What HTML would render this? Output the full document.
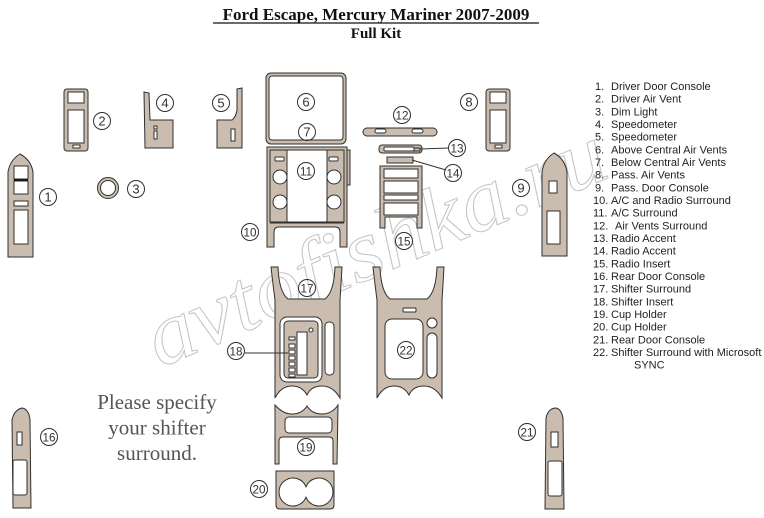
<!DOCTYPE html>
<html><head><meta charset="utf-8"><style>
html,body{margin:0;padding:0;background:#fff;}
svg{display:block;}
.p{fill:#cabdaf;stroke:#2f2f2f;stroke-width:1;}
.w{fill:#fff;stroke:#2f2f2f;stroke-width:1;}
.c{fill:none;stroke:#2f2f2f;stroke-width:1;}
.n{font-family:"Liberation Sans",sans-serif;font-size:13px;fill:#333;text-anchor:middle;}
.n2{font-family:"Liberation Sans",sans-serif;font-size:12px;fill:#333;text-anchor:middle;}
.lg{font-family:"Liberation Sans",sans-serif;font-size:11px;fill:#222;}
</style></head><body>
<svg width="764" height="518" viewBox="0 0 764 518" xmlns="http://www.w3.org/2000/svg">
<rect width="764" height="518" fill="#fff"/>

<!-- watermark -->
<text x="160" y="368" transform="rotate(-23 160 368)" textLength="492" lengthAdjust="spacingAndGlyphs" font-family="Liberation Serif, serif" font-style="italic" font-size="88" fill="none" stroke="#c4c4c4" stroke-width="1">avtofishka.ru</text>

<!-- title -->
<text x="376" y="20" text-anchor="middle" font-family="Liberation Serif, serif" font-weight="bold" font-size="17" fill="#111">Ford Escape, Mercury Mariner 2007-2009</text>
<line x1="213" y1="23" x2="539" y2="23" stroke="#111" stroke-width="1.2"/>
<text x="376" y="38" text-anchor="middle" font-family="Liberation Serif, serif" font-weight="bold" font-size="15" fill="#111">Full Kit</text>

<!-- Part 1 -->
<path class="p" d="M8,257 L8,172 Q10,160 20,154 Q31,160 33,172 L33,257 Z"/>
<rect class="w" x="14" y="166" width="14" height="13"/>
<rect class="w" x="14" y="181" width="14" height="13"/>
<line x1="14" y1="180" x2="28" y2="180" stroke="#111" stroke-width="1.5"/>
<rect class="w" x="14" y="201" width="14" height="5"/>
<rect class="w" x="14" y="210" width="14" height="34"/>

<!-- Part 2 -->
<rect class="p" x="64" y="89" width="24" height="62" rx="3"/>
<rect class="w" x="68" y="92" width="16" height="11"/>
<rect class="w" x="68" y="110" width="16" height="33"/>
<rect class="w" x="73" y="145" width="7" height="3"/>

<!-- Part 8 -->
<rect class="p" x="486" y="89" width="24" height="62" rx="3"/>
<rect class="w" x="490" y="92" width="16" height="11"/>
<rect class="w" x="490" y="110" width="16" height="33"/>
<rect class="w" x="495" y="145" width="7" height="3"/>

<!-- Part 3 -->
<circle cx="108" cy="188" r="9" fill="none" stroke="#cabdaf" stroke-width="3"/>
<circle cx="108" cy="188" r="10.5" class="c"/>
<circle cx="108" cy="188" r="7.5" class="c"/>

<!-- Part 4 -->
<path class="p" d="M144,92 L149,93 L150,120 L173,120 L173,148 L145,148 Z"/>
<rect class="w" x="154" y="126" width="3" height="3"/>
<rect class="w" x="154" y="131" width="3" height="8"/>

<!-- Part 5 -->
<path class="p" d="M237,89 L242,88 L242,148 L217,148 L217,120 L232,120 Q236,117 237,110 Z"/>
<rect class="w" x="231" y="129" width="4" height="12"/>

<!-- Part 6/7 -->
<rect class="p" x="266" y="73" width="80" height="71" rx="5"/>
<rect class="w" x="269" y="76" width="74" height="64" rx="3"/>

<!-- Part 10/11 -->
<path class="p" d="M267,147 L347,147 L347,247 L340,247 L340,232 Q340,227 335,227 L279,227 Q274,227 274,232 L274,247 L267,247 Z"/>
<rect class="p" x="270" y="150" width="17" height="72"/>
<rect class="p" x="327" y="150" width="17" height="72"/>
<rect class="w" x="287" y="150" width="40" height="72"/>
<line x1="270" y1="223" x2="344" y2="223" stroke="#2f2f2f" stroke-width="1"/>
<circle class="w" cx="280" cy="177" r="7"/>
<circle class="w" cx="280" cy="202" r="7"/>
<circle class="w" cx="334" cy="177" r="7"/>
<circle class="w" cx="334" cy="202" r="7"/>
<rect class="w" x="275" y="157" width="9" height="4" rx="1"/>
<rect class="w" x="329" y="157" width="9" height="4" rx="1"/>
<rect class="p" x="347" y="150" width="3" height="35"/>

<!-- Part 12 -->
<rect class="p" x="363" y="128" width="74" height="8" rx="4"/>
<rect class="w" x="375" y="129" width="11" height="4" rx="2"/>
<rect class="w" x="412" y="129" width="11" height="4" rx="2"/>

<!-- Part 13 -->
<rect class="p" x="379" y="145" width="43" height="8" rx="3"/>
<rect class="w" x="384" y="147" width="30" height="4" rx="1"/>
<rect class="p" x="414" y="148" width="6" height="3"/>
<line x1="420" y1="149" x2="449" y2="148" stroke="#333" stroke-width="1"/>

<!-- Part 14 -->
<rect class="p" x="387" y="157" width="26" height="6"/>
<line x1="412" y1="160" x2="446" y2="170" stroke="#333" stroke-width="1"/>

<!-- Part 15 -->
<path class="p" d="M380,166 L422,166 L422,228 L417,228 L417,217 L385,217 L385,228 L380,228 Z"/>
<rect class="w" x="384" y="169" width="34" height="9"/>
<rect class="w" x="384" y="181" width="34" height="12"/>
<rect class="w" x="384" y="195" width="34" height="5"/>
<rect class="w" x="384" y="203" width="34" height="12"/>

<!-- Part 9 -->
<path class="p" d="M542,256 L542,172 Q544,159 554,153 Q565,159 567,172 L567,256 Z"/>
<rect class="w" x="549" y="181" width="8" height="12"/>
<rect class="w" x="547" y="211" width="13" height="33"/>

<!-- Part 17/18 -->
<path class="p" d="M271,267 L278,267 Q279,292 288,299 L325,299 Q334,292 335,267 L342,267 Q341,285 340,300 L340,398 Q333,386 322,386 Q311,386 307,395 Q302,386 292,386 Q281,386 275,398 L275,300 Q273,285 271,267 Z"/>
<rect class="w" x="280" y="317" width="42" height="65" rx="7"/>
<rect class="p" x="284" y="321" width="34" height="57" rx="4"/>
<rect class="w" x="297" y="332" width="10" height="43"/>
<circle class="w" cx="311" cy="330" r="2"/>
<rect class="w" x="289" y="337" width="6" height="3"/>
<rect class="w" x="289" y="344" width="6" height="4"/>
<rect class="w" x="289" y="350" width="6" height="4"/>
<rect class="w" x="289" y="356" width="6" height="4"/>
<rect class="w" x="289" y="362" width="6" height="4"/>
<rect class="w" x="289" y="368" width="6" height="4"/>
<rect class="w" x="289" y="374" width="6" height="3"/>
<rect class="w" x="325" y="322" width="9" height="53" rx="4"/>
<line x1="245" y1="353" x2="288" y2="353" stroke="#333" stroke-width="1"/>

<!-- Part 22 -->
<path class="p" d="M373,267 L380,267 Q381,292 390,299 L427,299 Q436,292 437,267 L444,267 Q443,285 442,300 L442,398 Q435,386 424,386 Q413,386 409,395 Q404,386 394,386 Q383,386 377,398 L377,300 Q375,285 373,267 Z"/>
<rect class="w" x="403" y="308" width="13" height="4" rx="1"/>
<rect class="w" x="385" y="319" width="38" height="60" rx="7"/>
<circle class="w" cx="432" cy="323" r="5"/>
<rect class="w" x="427" y="333" width="10" height="45" rx="5"/>

<!-- Part 19 -->
<path class="p" d="M275,405 Q283,414 292,414 Q302,414 307,406 Q312,414 322,414 Q332,414 338,405 L337,464 L333,464 L333,441 Q333,437 329,437 L283,437 Q279,437 279,441 L279,464 L275,464 Z"/>
<rect class="w" x="285" y="417" width="47" height="16" rx="4"/>

<!-- Part 20 -->
<path class="p" d="M276,471 L334,471 L334,505 Q334,509 330,509 L280,509 Q276,509 276,505 Z"/>
<path class="w" d="M306,486.8 A14,14 0 1 0 306,497.2 A14,14 0 1 0 306,486.8 Z"/>

<!-- Part 16 -->
<path class="p" d="M13,508 L12,420 Q14,410 22,408 Q29,409 30,420 L31,508 Z"/>
<rect class="w" x="17" y="432" width="5" height="13"/>
<rect class="w" x="13" y="460" width="14" height="35" rx="2"/>

<!-- Part 21 -->
<path class="p" d="M545,509 L546,418 Q548,409 555,408 Q561,408 563,418 L564,509 Z"/>
<rect class="w" x="551" y="432" width="7" height="15"/>
<rect class="w" x="548" y="461" width="14" height="35" rx="2"/>

<!-- Please specify -->
<g font-family="Liberation Serif, serif" font-size="21" fill="#555" text-anchor="middle">
<text x="157" y="409">Please specify</text>
<text x="157" y="434.5">your shifter</text>
<text x="157" y="460">surround.</text>
</g>

<!-- labels -->
<g>
<circle class="c" cx="48" cy="197" r="8.5"/><text class="n" x="48" y="201.5">1</text>
<circle class="c" cx="102" cy="121" r="8.5"/><text class="n" x="102" y="125.5">2</text>
<circle class="c" cx="136" cy="189" r="8.5"/><text class="n" x="136" y="193.5">3</text>
<circle class="c" cx="165" cy="103" r="8.5"/><text class="n" x="165" y="107.5">4</text>
<circle class="c" cx="221" cy="103" r="8.5"/><text class="n" x="221" y="107.5">5</text>
<circle class="c" cx="306" cy="102" r="8.5"/><text class="n" x="306" y="106.5">6</text>
<circle class="c" cx="307" cy="132" r="8.5"/><text class="n" x="307" y="136.5">7</text>
<circle class="c" cx="469" cy="102" r="8.5"/><text class="n" x="469" y="106.5">8</text>
<circle class="c" cx="521" cy="188" r="8.5"/><text class="n" x="521" y="192.5">9</text>
<circle class="c" cx="250" cy="232" r="8.5"/><text class="n2" x="250" y="236.5" textLength="13" lengthAdjust="spacingAndGlyphs">10</text>
<circle class="c" cx="306" cy="171" r="8.5"/><text class="n2" x="306" y="175.5" textLength="12" lengthAdjust="spacingAndGlyphs">11</text>
<circle class="c" cx="402" cy="115" r="8.5"/><text class="n2" x="402" y="119.5" textLength="13" lengthAdjust="spacingAndGlyphs">12</text>
<circle class="c" cx="457" cy="148" r="8.5"/><text class="n2" x="457" y="152.5" textLength="13" lengthAdjust="spacingAndGlyphs">13</text>
<circle class="c" cx="453" cy="173" r="8.5"/><text class="n2" x="453" y="177.5" textLength="13" lengthAdjust="spacingAndGlyphs">14</text>
<circle class="c" cx="404" cy="241" r="8.5"/><text class="n2" x="404" y="245.5" textLength="13" lengthAdjust="spacingAndGlyphs">15</text>
<circle class="c" cx="49" cy="437" r="8.5"/><text class="n2" x="49" y="441.5" textLength="13" lengthAdjust="spacingAndGlyphs">16</text>
<circle class="c" cx="307" cy="288" r="8.5"/><text class="n2" x="307" y="292.5" textLength="13" lengthAdjust="spacingAndGlyphs">17</text>
<circle class="c" cx="236" cy="351" r="8.5"/><text class="n2" x="236" y="355.5" textLength="13" lengthAdjust="spacingAndGlyphs">18</text>
<circle class="c" cx="306" cy="447" r="8.5"/><text class="n2" x="306" y="451.5" textLength="13" lengthAdjust="spacingAndGlyphs">19</text>
<circle class="c" cx="259" cy="489" r="8.5"/><text class="n2" x="259" y="493.5" textLength="13" lengthAdjust="spacingAndGlyphs">20</text>
<circle class="c" cx="527" cy="432" r="8.5"/><text class="n2" x="527" y="436.5" textLength="13" lengthAdjust="spacingAndGlyphs">21</text>
<circle class="c" cx="406" cy="350" r="8.5"/><text class="n2" x="406" y="354.5" textLength="13" lengthAdjust="spacingAndGlyphs">22</text>
</g>

<!-- legend -->
<g class="lg">
<text x="595" y="90">1.</text><text x="611" y="90">Driver Door Console</text>
<text x="595" y="102.7">2.</text><text x="611" y="102.7">Driver Air Vent</text>
<text x="595" y="115.3">3.</text><text x="611" y="115.3">Dim Light</text>
<text x="595" y="128">4.</text><text x="611" y="128">Speedometer</text>
<text x="595" y="140.7">5.</text><text x="611" y="140.7">Speedometer</text>
<text x="595" y="153.3">6.</text><text x="611" y="153.3">Above Central Air Vents</text>
<text x="595" y="166">7.</text><text x="611" y="166">Below Central Air Vents</text>
<text x="595" y="178.7">8.</text><text x="611" y="178.7">Pass. Air Vents</text>
<text x="595" y="191.3">9.</text><text x="611" y="191.3">Pass. Door Console</text>
<text x="593" y="204">10.</text><text x="611" y="204">A/C and Radio Surround</text>
<text x="593" y="216.7">11.</text><text x="611" y="216.7">A/C Surround</text>
<text x="593" y="229.3">12.</text><text x="615" y="229.3">Air Vents Surround</text>
<text x="593" y="242">13.</text><text x="611" y="242">Radio Accent</text>
<text x="593" y="254.7">14.</text><text x="611" y="254.7">Radio Accent</text>
<text x="593" y="267.3">15.</text><text x="611" y="267.3">Radio Insert</text>
<text x="593" y="280">16.</text><text x="611" y="280">Rear Door Console</text>
<text x="593" y="292.7">17.</text><text x="611" y="292.7">Shifter Surround</text>
<text x="593" y="305.3">18.</text><text x="611" y="305.3">Shifter Insert</text>
<text x="593" y="318">19.</text><text x="611" y="318">Cup Holder</text>
<text x="593" y="330.7">20.</text><text x="611" y="330.7">Cup Holder</text>
<text x="593" y="343.3">21.</text><text x="611" y="343.3">Rear Door Console</text>
<text x="593" y="356">22.</text><text x="611" y="356">Shifter Surround with Microsoft</text>
<text x="634" y="368.5">SYNC</text>
</g>
</svg>
</body></html>
